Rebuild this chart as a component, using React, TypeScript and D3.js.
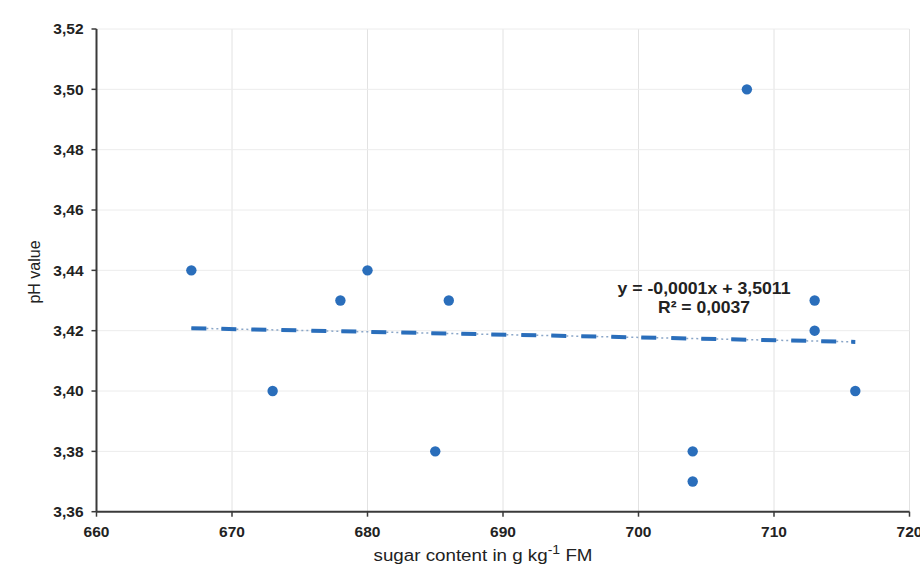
import React from "react";
import * as d3 from "d3";

const sugar = [667, 673, 678, 680, 685, 686, 704, 704, 708, 713, 713, 716];
const ph = [3.44, 3.40, 3.43, 3.44, 3.38, 3.43, 3.38, 3.37, 3.50, 3.43, 3.42, 3.40];
const xTicks = [660, 670, 680, 690, 700, 710, 720];
const yTicks = [3.36, 3.38, 3.40, 3.42, 3.44, 3.46, 3.48, 3.50, 3.52];
const eqLine1 = "y = -0,0001x + 3,5011";
const eqLine2 = "R² = 0,0037";

const W = 920, H = 570;
const M = { left: 96.5, right: 909.5, top: 29, bottom: 511.7 };

export default function App() {
  const x = d3.scaleLinear().domain([660, 720]).range([M.left, M.right]);
  const y = d3.scaleLinear().domain([3.36, 3.52]).range([M.bottom, M.top]);
  const fmtY = (v: number) => v.toFixed(2).replace(".", ",");

  const n = sugar.length;
  const mx = d3.mean(sugar)!;
  const my = d3.mean(ph)!;
  let sxy = 0, sxx = 0;
  for (let i = 0; i < n; i++) {
    sxy += (sugar[i] - mx) * (ph[i] - my);
    sxx += (sugar[i] - mx) ** 2;
  }
  const b = sxy / sxx;
  const a = my - b * mx;
  const x0 = d3.min(sugar)!, x1 = d3.max(sugar)!;
  const line = d3.line<number>().x((d) => x(d)).y((d) => y(a + b * d));

  const font = "'Liberation Sans', Arial, sans-serif";
  return (
    <svg width={W} height={H} style={{ position: "absolute", left: 0, top: 0, background: "#fff" }} fontFamily={font}>
      <rect width={W} height={H} fill="#fff" />
      {xTicks.slice(1).map((t) => (
        <line key={"gx" + t} x1={x(t)} x2={x(t)} y1={M.top} y2={M.bottom} stroke="#e2e2e2" strokeWidth={1} />
      ))}
      {yTicks.slice(1).map((t) => (
        <line key={"gy" + t} x1={M.left} x2={M.right} y1={y(t)} y2={y(t)} stroke="#ececec" strokeWidth={1} />
      ))}
      <line x1={M.left} x2={M.left} y1={M.top} y2={M.bottom} stroke="#3a3a3a" strokeWidth={2} />
      <line x1={M.left} x2={M.right} y1={M.bottom} y2={M.bottom} stroke="#3a3a3a" strokeWidth={2} />
      {yTicks.map((t) => (
        <g key={"ty" + t}>
          <line x1={M.left - 5} x2={M.left} y1={y(t)} y2={y(t)} stroke="#3a3a3a" strokeWidth={1.5} />
          <text x={M.left - 13} y={y(t)} dy="0.35em" textAnchor="end" fontSize={15.5} fontWeight="bold" fill="#222">
            {fmtY(t)}
          </text>
        </g>
      ))}
      {xTicks.map((t) => (
        <g key={"tx" + t}>
          <line x1={x(t)} x2={x(t)} y1={M.bottom} y2={M.bottom + 5} stroke="#3a3a3a" strokeWidth={1.5} />
          <text x={x(t)} y={M.bottom + 25} textAnchor="middle" fontSize={15.5} fontWeight="bold" fill="#222">
            {t}
          </text>
        </g>
      ))}
      <path d={line([x0, x1])!} fill="none" stroke="#8aa6c8" strokeWidth={1.5} strokeDasharray="2,3" />
      <path d={line([x0, x1])!} fill="none" stroke="#2a6ebb" strokeWidth={4} strokeDasharray="15,15" strokeLinecap="butt" />
      {sugar.map((s, i) => (
        <circle key={"p" + i} cx={x(s)} cy={y(ph[i])} r={5.2} fill="#2a6ebb" />
      ))}
      <text x={704} y={294} textAnchor="middle" fontSize={17} fontWeight="bold" fill="#222" textLength={173} lengthAdjust="spacingAndGlyphs">{eqLine1}</text>
      <text x={704} y={313} textAnchor="middle" fontSize={17} fontWeight="bold" fill="#222" textLength={92} lengthAdjust="spacingAndGlyphs">{eqLine2}</text>
      <text transform={`translate(40,${272}) rotate(-90)`} textAnchor="middle" fontSize={16} fill="#222">
        pH value
      </text>
      <text x={483} y={561} textAnchor="middle" fontSize={16} fill="#222" textLength={219} lengthAdjust="spacingAndGlyphs">
        sugar content in g kg<tspan dy={-7} fontSize={12}>-1</tspan><tspan dy={7}> FM</tspan>
      </text>
    </svg>
  );
}
